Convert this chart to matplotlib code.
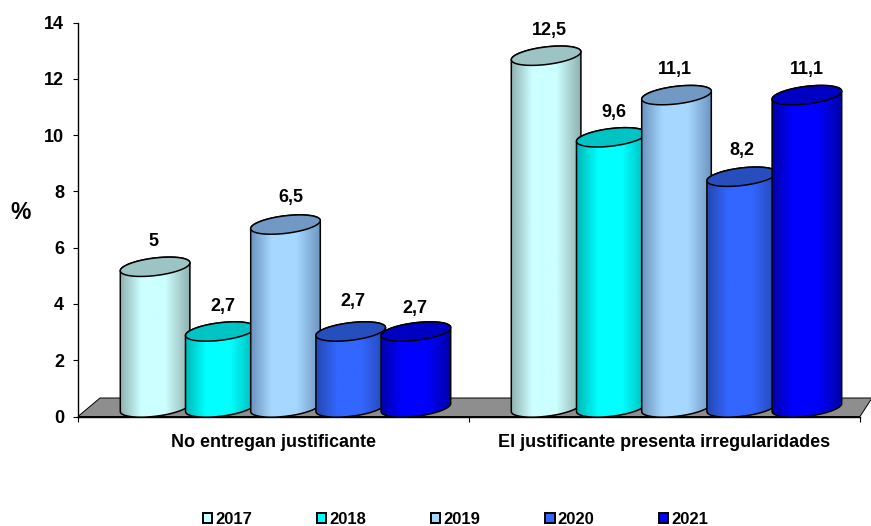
import numpy as np
import matplotlib
matplotlib.use('Agg')
import matplotlib.pyplot as plt
from matplotlib.colors import LinearSegmentedColormap
from matplotlib.patches import Patch, Polygon

categories = ['No entregan justificante', 'El justificante presenta irregularidades']
years = ['2017', '2018', '2019', '2020', '2021']
values_no_entregan = [5, 2.7, 6.5, 2.7, 2.7]
values_irregular = [12.5, 9.6, 11.1, 8.2, 11.1]
value_labels = [['5', '2,7', '6,5', '2,7', '2,7'],
                ['12,5', '9,6', '11,1', '8,2', '11,1']]
yticks = [0, 2, 4, 6, 8, 10, 12, 14]

# side edge, highlight, top ellipse
face_colors = ['#CCFFFF', '#00FFFF', '#A6D8FF', '#3366FF', '#0000FF']
edge_colors = ['#8FB0B0', '#00B8B8', '#6C94C0', '#2448B0', '#0000A8']
top_colors = ['#9DC4C4', '#00C4C4', '#7299C4', '#264EBD', '#0000C4']

plt.rcParams['font.family'] = ['Liberation Sans', 'DejaVu Sans']
plt.rcParams['font.weight'] = 'bold'

W, H = 871, 526
fig = plt.figure(figsize=(W / 100, H / 100), dpi=100)
ax = fig.add_axes([78 / W, 1 - 416.5 / H, 782 / W, 394 / H])

# sizes in pixels turned into data units
ux = 2 / 782
uy = 14 / 394
depth_x, depth_y = 12 * ux, 9 * uy
half_w = 34.8 * ux
step = 65.2 * ux
minor = 8.8 * uy
tilt = 4 * uy

# grey floor
floor = Polygon([(0, 0), (22 * ux, 18.5 * uy), (2 + 12 * ux, 18.5 * uy), (2, 0)],
                closed=True, facecolor='#8E8E8E', edgecolor='black', lw=0.7, zorder=1, clip_on=False)
ax.add_patch(floor)

# label nudges, in points
nudge = {(0, 0): (-1, 0), (0, 1): (1.5, 0), (0, 2): (4, 1.5), (0, 3): (1.5, 3.5), (0, 4): (-1, -1.5),
         (1, 0): (2, 0), (1, 1): (2, 0), (1, 2): (-1, 0.7), (1, 3): (0, 0.7), (1, 4): (0, 0.7)}

t = np.linspace(0, 2 * np.pi, 121)
for c, vals in enumerate([values_no_entregan, values_irregular]):
    for i, v in enumerate(vals):
        cx = c + 0.5 + depth_x + (i - 2) * step
        z = 3 + i
        # outline of the side: lower half of the base ellipse, upper half of the top one
        low = t[60:121]
        xb = cx + half_w * np.cos(low)
        yb = depth_y + tilt * np.cos(low) + minor * np.sin(low)
        up = t[0:61]
        xt = cx + half_w * np.cos(up)
        yt = depth_y + v + tilt * np.cos(up) + minor * np.sin(up)
        body = Polygon(np.column_stack([np.r_[xb, xt], np.r_[yb, yt]]), closed=True,
                       facecolor='none', edgecolor='black', lw=1.1, zorder=z + 0.2)
        ax.add_patch(body)

        cmap = LinearSegmentedColormap.from_list(
            'cyl', [(0, edge_colors[i]), (0.3, face_colors[i]), (0.65, face_colors[i]), (1, edge_colors[i])])
        im = ax.imshow(np.linspace(0, 1, 128).reshape(1, -1), cmap=cmap, aspect='auto',
                       extent=(cx - half_w, cx + half_w, 0, 14), zorder=z + 0.1)
        im.set_clip_path(body)

        top = Polygon(np.column_stack([cx + half_w * np.cos(t),
                                       depth_y + v + tilt * np.cos(t) + minor * np.sin(t)]),
                      closed=True, facecolor=top_colors[i], edgecolor='black', lw=1.1, zorder=z + 0.3)
        ax.add_patch(top)

        nx, ny = nudge[(c, i)]
        ax.annotate(value_labels[c][i], (cx, depth_y + v), xytext=(nx, 18 + ny),
                    textcoords='offset points', ha='center', va='center',
                    fontsize=13, color='black', zorder=20)

ax.set_xlim(0, 2)
ax.set_ylim(0, 14)

ax.spines['top'].set_visible(False)
ax.spines['right'].set_visible(False)
ax.spines['left'].set_linewidth(1)
ax.spines['bottom'].set_linewidth(1)
ax.set_yticks(yticks)
ax.set_xticks([0, 1, 2])
ax.set_xticklabels([])
ax.set_xticks([0.5, 1.5], minor=True)
ax.set_xticklabels(categories, minor=True, fontsize=13)
ax.tick_params(axis='x', which='minor', length=0, pad=12.5)
ax.tick_params(axis='x', which='major', length=3.6, width=0.8)
ax.tick_params(axis='y', labelsize=13, length=3.6, width=0.8, pad=6.5)
ax.set_ylabel('%', rotation=0, fontsize=16.5, fontweight='bold', va='center')
ax.yaxis.set_label_coords(-57 / 782, 1 - 190 / 394)

handles = [Patch(facecolor=f, edgecolor='black', lw=1.4, label=y) for f, y in zip(face_colors, years)]
fig.legend(handles=handles, loc='center', bbox_to_anchor=(455.5 / W, 1 - 519 / H), ncols=5, frameon=False,
           fontsize=12, handlelength=0.55, handleheight=0.55, handletextpad=0.15, columnspacing=3.93,
           borderpad=0, borderaxespad=0)

fig.savefig('out.png', dpi=100)
